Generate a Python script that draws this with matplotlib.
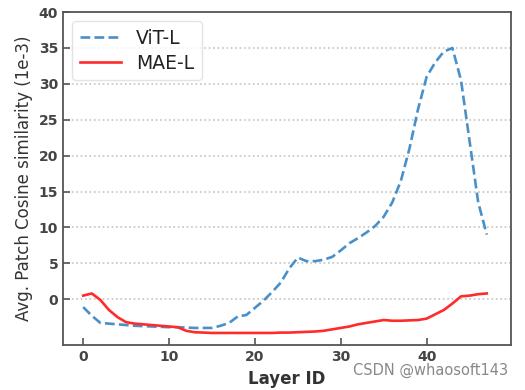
import matplotlib
matplotlib.use("Agg")
import matplotlib.pyplot as plt
import numpy as np

layers = list(range(48))
vit_l = [-1.1, -2.3, -3.3, -3.4, -3.5, -3.6, -3.7, -3.75, -3.8, -3.85, -3.9, -3.9,
         -3.95, -4.0, -4.0, -4.0, -3.7, -3.3, -2.4, -2.2, -1.2, -0.2, 1.0, 2.3,
         4.3, 5.8, 5.3, 5.3, 5.5, 5.9, 6.8, 7.8, 8.5, 9.3, 10.2, 11.5,
         13.5, 16.5, 21.0, 26.5, 31.0, 33.0, 34.5, 35.0, 30.5, 22.0, 13.5, 9.0]
mae_l = [0.5, 0.8, -0.1, -1.5, -2.5, -3.2, -3.4, -3.5, -3.6, -3.7, -3.8, -3.9,
         -4.4, -4.6, -4.65, -4.7, -4.7, -4.7, -4.7, -4.7, -4.7, -4.7, -4.7, -4.65,
         -4.65, -4.6, -4.55, -4.5, -4.4, -4.2, -4.0, -3.8, -3.5, -3.3, -3.1, -2.9,
         -3.0, -3.0, -2.95, -2.9, -2.7, -2.1, -1.5, -0.6, 0.4, 0.5, 0.7, 0.8]
xticks = [0, 10, 20, 30, 40]
yticks = [0, 5, 10, 15, 20, 25, 30, 35, 40]

fig = plt.figure(figsize=(5.25, 3.9), dpi=100)
ax = fig.add_axes([0.12, 0.115, 0.853, 0.854])

ax.plot(layers, vit_l, linestyle="--", color="#4a90c8", lw=1.9, label="ViT-L")
ax.plot(layers, mae_l, linestyle="-", color="#ff2a2a", lw=1.9, label="MAE-L")

ax.set_xlim(-2.35, 49.8)
ax.set_ylim(-6.4, 40)
ax.set_xticks(xticks)
ax.set_yticks(yticks)
ax.yaxis.grid(True, linestyle=":", color="#c4c4c4", lw=1.2)
ax.set_axisbelow(True)
ax.tick_params(direction="in", length=5, width=1.2, colors="#555555",
               labelsize=10, labelcolor="#444444")
for lab in ax.get_xticklabels() + ax.get_yticklabels():
    lab.set_fontweight("semibold")
for s in ax.spines.values():
    s.set_color("#555555")
    s.set_linewidth(1.3)

ax.set_xlabel("Layer ID", fontsize=12, fontweight="semibold", color="#333333")
ax.set_ylabel("Avg. Patch Cosine similarity (1e-3)", fontsize=12, color="#333333")

leg = ax.legend(loc="upper left", fontsize=13.5, handlelength=2.2, frameon=True,
                fancybox=True, borderpad=0.4, labelspacing=0.3)
leg.get_frame().set_edgecolor("#dddddd")
for t in leg.get_texts():
    t.set_color("#222222")

fig.text(0.968, 0.03, "CSDN @whaosoft143", ha="right", va="bottom",
         fontsize=10.5, color="#888888")

fig.savefig("out.png", dpi=100)
